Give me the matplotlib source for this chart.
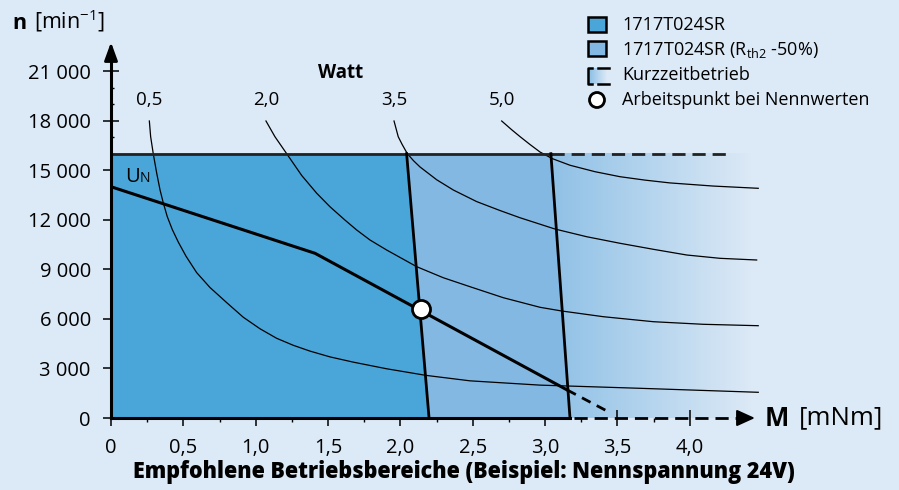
import numpy as np
import matplotlib
matplotlib.use("Agg")
import matplotlib.pyplot as plt
from matplotlib.patches import Polygon, Rectangle, Circle

plt.rcParams['font.family'] = ['Open Sans', 'DejaVu Sans']
plt.rcParams['mathtext.fontset'] = 'custom'
plt.rcParams['mathtext.rm'] = 'Open Sans'
plt.rcParams['mathtext.bf'] = 'Open Sans:bold'
plt.rcParams['lines.scale_dashes'] = False

# colours
BG = '#dce9f6'
DARK = '#4aa5d8'
LIGHT = '#82b8e1'
GRAD_START = (0.55, 0.75, 0.90)

# --- data ---
n_max = 16000                      # speed limit line
dark_edge_M = [2.043, 2.198]       # continuous duty edge (top, bottom)
light_edge_M = [3.04, 3.172]       # Rth2 -50% edge (top, bottom)
edge_n = [16000, 0]
short_end_M = 4.25                 # end of dashed n_max line
grad_end_M = 4.42

un_M = [0, 1.41, 3.153]            # U_N characteristic
un_n = [14000, 9970, 1695]
un_ext_M = [3.153, 3.437]
un_ext_n = [1695, 380]

op_M, op_n = 2.14, 6580           # operating point

# power curves (Watt)
w05_M = [0.265, 0.274, 0.292, 0.316, 0.339, 0.361, 0.389, 0.424, 0.465, 0.518,
         0.592, 0.684, 0.800, 0.914, 1.030, 1.145, 1.260, 1.375, 1.513, 1.675,
         1.905, 2.177, 2.481, 2.965, 3.656, 4.473]
w05_n = [17978, 17028, 16000, 14812, 13801, 13032, 12185, 11400, 10650, 9800,
         8800, 7900, 6980, 6100, 5400, 4824, 4400, 4050, 3700, 3380,
         2980, 2580, 2250, 1990, 1798, 1556]
w20_M = [1.071, 1.133, 1.214, 1.318, 1.422, 1.513, 1.617, 1.698, 1.790, 1.905,
         2.113, 2.296, 2.481, 2.711, 2.965, 3.115, 3.402, 3.748, 4.093, 4.473]
w20_n = [17978, 17027, 16000, 14680, 13601, 12790, 11980, 11380, 10774, 10169,
         9158, 8492, 7948, 7282, 6701, 6477, 6132, 5829, 5672, 5587]
w35_M = [1.956, 1.985, 2.012, 2.048, 2.090, 2.135, 2.251, 2.366, 2.527, 2.688,
         2.826, 3.068, 3.287, 3.518, 3.748, 3.979, 4.209, 4.462]
w35_n = [17978, 17027, 16560, 16000, 15580, 15200, 14420, 13800, 13100, 12560,
         12124, 11440, 10974, 10575, 10212, 9866, 9666, 9564]
w50_M = [2.700, 2.769, 2.827, 2.895, 2.965, 3.050, 3.172, 3.345, 3.518, 3.690,
         3.863, 4.162, 4.473]
w50_n = [17978, 17450, 17030, 16560, 16100, 15700, 15300, 14909, 14606, 14400,
         14230, 14040, 13904]
watt_labels = ['0,5', '2,0', '3,5', '5,0']

x_ticks = [0, 0.5, 1.0, 1.5, 2.0, 2.5, 3.0, 3.5, 4.0]
x_labels = ['0', '0,5', '1,0', '1,5', '2,0', '2,5', '3,0', '3,5', '4,0']
x_minor = [0.25, 0.75, 1.25, 1.75, 2.25, 2.75, 3.25, 3.75]
y_ticks = [0, 3000, 6000, 9000, 12000, 15000, 18000, 21000]
y_labels = ['0', '3 000', '6 000', '9 000', '12 000', '15 000', '18 000', '21 000']
y_minor = [1000, 2000, 4000, 5000, 7000, 8000, 10000, 11000, 13000, 14000,
           16000, 17000, 19000, 20000]

legend_items = ['1717T024SR', '1717T024SR (R$_{\\mathrm{th2}}$ -50%)',
                'Kurzzeitbetrieb', 'Arbeitspunkt bei Nennwerten']

fig = plt.figure(figsize=(8.99, 4.90), dpi=100)
fig.patch.set_facecolor(BG)

ax = fig.add_axes([111 / 899, 72 / 490, 4.5 * 144.7 / 899, 23000 * 0.01652 / 490])
ax.set_facecolor(BG)
ax.set_xlim(0, 4.5)
ax.set_ylim(0, 23000)
for s in ax.spines.values():
    s.set_visible(False)

# short-time duty gradient
grad = np.ones((1, 256, 4))
t = np.linspace(0, 1, 256)
bg_rgb = matplotlib.colors.to_rgb(BG)
for i in range(3):
    grad[0, :, i] = GRAD_START[i] + (bg_rgb[i] - GRAD_START[i]) * t
ax.imshow(grad, extent=[light_edge_M[0] - 0.05, grad_end_M, 0, n_max],
          aspect='auto', zorder=1, interpolation='bilinear')

# operating ranges
ax.add_patch(Polygon([(0, 0), (0, n_max), (light_edge_M[0], n_max), (light_edge_M[1], 0)],
                     closed=True, facecolor=LIGHT, edgecolor='none', zorder=2))
ax.add_patch(Polygon([(0, 0), (0, n_max), (dark_edge_M[0], n_max), (dark_edge_M[1], 0)],
                     closed=True, facecolor=DARK, edgecolor='none', zorder=2))

# power curves
for cm, cn, lab in zip([w05_M, w20_M, w35_M, w50_M], [w05_n, w20_n, w35_n, w50_n], watt_labels):
    ax.plot(cm, cn, color='k', lw=0.9, zorder=3, solid_joinstyle='round')
    ax.text(cm[0], 19250, lab, ha='center', va='center', fontsize=13.5)
ax.text(1.59, 20880, 'Watt', ha='center', va='center', fontsize=13.5, fontweight='bold')

# limits
ax.plot([0, light_edge_M[0]], [n_max, n_max], color='#222222', lw=2, zorder=4)
ax.plot([light_edge_M[0], short_end_M], [n_max, n_max], color='#222222', lw=2,
        dashes=(9.5, 5), zorder=4)
ax.plot(dark_edge_M, edge_n, color='k', lw=2, zorder=4)
ax.plot(light_edge_M, edge_n, color='k', lw=2, zorder=4)

# U_N line
ax.plot(un_M, un_n, color='k', lw=2.2, zorder=5)
ax.plot(un_ext_M, un_ext_n, color='k', lw=2, dashes=(7, 5), zorder=5)
ax.text(0.095, 14300, 'U', fontsize=14.5, va='baseline', ha='left')
ax.text(0.20, 14300, 'N', fontsize=10, va='baseline', ha='left')

ax.plot([op_M], [op_n], marker='o', ms=13, mfc='white', mec='k', mew=2, zorder=6)

# axes lines with arrows
ax.plot([0, 0], [0, 22200], color='k', lw=2.2, zorder=6, clip_on=False)
ax.annotate('', xy=(0, 22750), xytext=(0, 21800),
            arrowprops=dict(arrowstyle='-|>,head_length=0.55,head_width=0.2',
                            color='k', lw=2, mutation_scale=20, shrinkA=0, shrinkB=0),
            annotation_clip=False, zorder=6)
ax.plot([0, light_edge_M[1]], [0, 0], color='k', lw=2.2, zorder=6, clip_on=False)
ax.plot([light_edge_M[1] + 0.03, 4.34], [0, 0], color='k', lw=2, dashes=(9.5, 5),
        zorder=6, clip_on=False)
ax.annotate('', xy=(4.45, 0), xytext=(4.35, 0),
            arrowprops=dict(arrowstyle='-|>,head_length=0.55,head_width=0.25',
                            color='k', lw=1.5, mutation_scale=20, shrinkA=0, shrinkB=0),
            annotation_clip=False, zorder=6)

ax.set_xticks(x_ticks)
ax.set_xticklabels(x_labels)
ax.set_xticks(x_minor, minor=True)
ax.set_yticks(y_ticks)
ax.set_yticklabels(y_labels)
ax.set_yticks(y_minor, minor=True)
ax.tick_params(axis='x', which='major', direction='inout', length=11, width=1.1,
               pad=9, labelsize=14.5)
ax.tick_params(axis='x', which='minor', direction='out', length=3, width=1)
ax.tick_params(axis='y', which='major', direction='inout', length=11, width=1.1,
               pad=9, labelsize=14.5)
ax.tick_params(axis='y', which='minor', direction='in', length=2.5, width=1)

# overlay in pixel coordinates for titles and legend
ov = fig.add_axes([0, 0, 1, 1], zorder=3)
ov.set_xlim(0, 899)
ov.set_ylim(490, 0)
ov.axis('off')
ov.patch.set_alpha(0)

ov.text(12, 29, 'n', fontsize=15.5, fontweight='bold', va='baseline')
ov.text(34, 29, '[min$^{\\mathrm{-1}}$]', fontsize=15.5, va='baseline')
ov.text(765, 418, 'M', fontsize=18.5, fontweight='bold', va='center')
ov.text(799, 418, '[mNm]', fontsize=18.5, va='center')
ov.text(464, 472, 'Empfohlene Betriebsbereiche (Beispiel: Nennspannung 24V)',
        fontsize=15.5, fontweight='heavy', ha='center', va='center')

# legend
ov.add_patch(Rectangle((588, 17), 18, 15, facecolor=DARK, edgecolor='k', lw=1.8))
ov.add_patch(Rectangle((588, 41), 18, 15, facecolor=LIGHT, edgecolor='k', lw=1.8))
lg = np.ones((1, 64, 4))
tl = np.linspace(0, 1, 64)
for i in range(3):
    lg[0, :, i] = GRAD_START[i] + (bg_rgb[i] - GRAD_START[i]) * tl
ov.imshow(lg, extent=[589, 607, 84, 68], aspect='auto', zorder=2)
ov.plot([592, 588, 588, 592], [68, 68, 84, 84], color='k', lw=1.8)
ov.plot([598, 609], [68, 68], color='k', lw=1.8)
ov.plot([598, 609], [84, 84], color='k', lw=1.8)
ov.add_patch(Circle((597, 100), 7.5, facecolor='white', edgecolor='k', lw=2))
for i, s in enumerate(legend_items):
    ov.text(622, 25 + 25 * i, s, fontsize=13, va='center')

plt.savefig('out.png', dpi=100, facecolor=BG)
